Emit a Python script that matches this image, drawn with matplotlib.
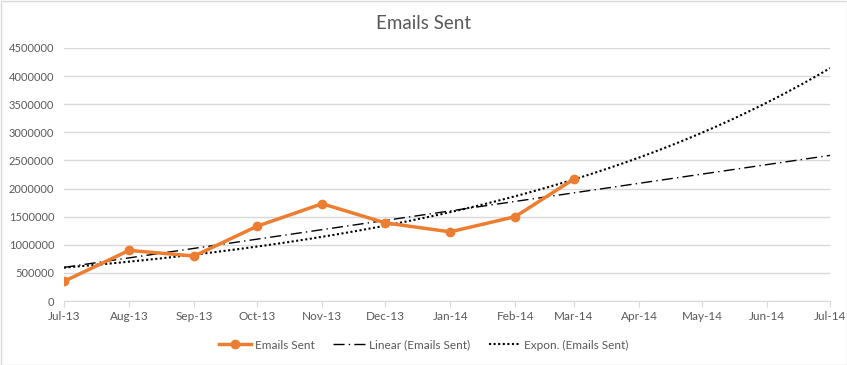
import matplotlib
matplotlib.use("Agg")
import matplotlib.pyplot as plt
import matplotlib.dates as mdates
import numpy as np
import datetime as dt

months = ["Jul-13", "Aug-13", "Sep-13", "Oct-13", "Nov-13", "Dec-13", "Jan-14", "Feb-14", "Mar-14"]
emails_sent = [350000, 900000, 800000, 1330000, 1730000, 1390000, 1230000, 1500000, 2170000]
axis_months = ["Jul-13", "Aug-13", "Sep-13", "Oct-13", "Nov-13", "Dec-13", "Jan-14",
               "Feb-14", "Mar-14", "Apr-14", "May-14", "Jun-14", "Jul-14"]
y_ticks = [0, 500000, 1000000, 1500000, 2000000, 2500000, 3000000, 3500000, 4000000, 4500000]

plt.rcParams['font.family'] = ['Lato', 'DejaVu Sans']

def to_date(s):
    return dt.datetime.strptime("01-" + s, "%d-%b-%y")

x_data = [to_date(m) for m in months]
x_axis = [to_date(m) for m in axis_months]

fig = plt.figure(figsize=(8.47, 3.65), dpi=100)
ax = fig.add_axes([64/847, 1-301/365, (830-64)/847, (301-48)/365])

# trendlines (computed from data, x in days as Excel does)
xd = mdates.date2num(x_data)
xa = np.linspace(mdates.date2num(x_axis[0]), mdates.date2num(x_axis[-1]), 200)
y = np.array(emails_sent, dtype=float)
lin = np.polyfit(xd, y, 1)
expo = np.polyfit(xd, np.log(y), 1)

ax.plot(xa, np.polyval(lin, xa), color="black", lw=1.0, linestyle=(0, (8, 3, 1, 3)),
        label="Linear (Emails Sent)", zorder=3)
ax.plot(xa, np.exp(np.polyval(expo, xa)), color="black", lw=1.5, linestyle=(0, (1, 1.2)),
        label="Expon. (Emails Sent)", zorder=3)
ax.plot(xd, y, color="#ED7D31", lw=2.5, marker="o", markersize=6,
        label="Emails Sent", zorder=4)

ax.set_ylim(0, 4500000)
ax.set_xlim(mdates.date2num(x_axis[0]), mdates.date2num(x_axis[-1]))
ax.set_yticks(y_ticks)
ax.set_yticklabels([str(v) for v in y_ticks])
ax.set_xticks(mdates.date2num(x_axis))
ax.set_xticklabels(axis_months)
ax.grid(axis="y", color="#d9d9d9", lw=1)
ax.set_axisbelow(True)
for s in ["top", "right", "left"]:
    ax.spines[s].set_visible(False)
ax.spines["bottom"].set_color("#d9d9d9")
ax.tick_params(axis="y", length=0, colors="#595959", labelsize=8, pad=7)
ax.tick_params(axis="x", length=4, color="#d9d9d9", colors="#595959", labelsize=8.5, pad=3)

fig.suptitle("Emails Sent", x=0.5, y=0.96, fontsize=13.5, color="#595959")

handles, labels = ax.get_legend_handles_labels()
order = [2, 0, 1]
leg = fig.legend([handles[i] for i in order], [labels[i] for i in order],
                 loc="center", bbox_to_anchor=(424/847, 1-345/365), ncol=3, frameon=False,
                 fontsize=8.5, handlelength=2.7, columnspacing=1.6, handletextpad=0.3)
for t in leg.get_texts():
    t.set_color("#595959")

fig.patches.append(plt.Rectangle((0.5/847, 0.5/365), 1-1/847, 1-1/365, transform=fig.transFigure,
                                 fill=False, edgecolor="#d9d9d9", lw=1))
fig.savefig("out.png", dpi=100, facecolor="white")
